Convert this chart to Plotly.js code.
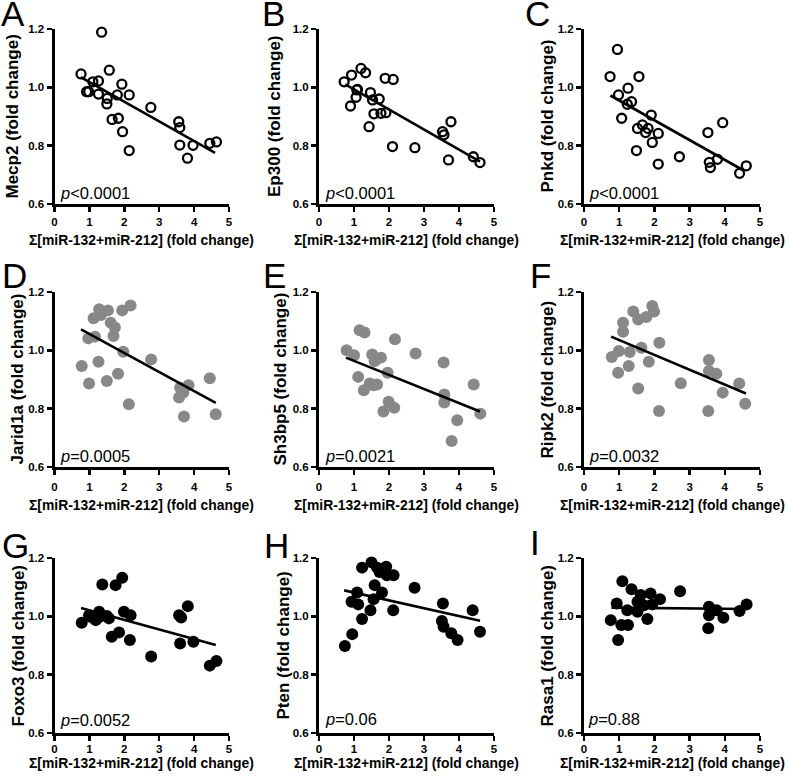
<!DOCTYPE html>
<html><head><meta charset="utf-8">
<script src="https://cdn.plot.ly/plotly-3.0.1.min.js"></script>
<style>html,body{margin:0;padding:0;background:#fff}#chart{width:789px;height:778px}</style>
</head><body><div id="chart"></div>
<script>
// ---- data ----
const xTickVals = [0, 1, 2, 3, 4, 5];
const xTickText = ['0', '1', '2', '3', '4', '5'];
const yTickVals = [0.6, 0.8, 1.0, 1.2];
const yTickText = ['0.6', '0.8', '1.0', '1.2'];
const panelLetters = ['A', 'B', 'C', 'D', 'E', 'F', 'G', 'H', 'I'];
const geneNames = ['Mecp2', 'Ep300', 'Pnkd', 'Jarid1a', 'Sh3bp5', 'Ripk2', 'Foxo3', 'Pten', 'Rasa1'];
const pValueLabels = ['<i>p</i>&lt;0.0001', '<i>p</i>&lt;0.0001', '<i>p</i>&lt;0.0001',
  '<i>p</i>=0.0005', '<i>p</i>=0.0021', '<i>p</i>=0.0032',
  '<i>p</i>=0.0052', '<i>p</i>=0.06', '<i>p</i>=0.88'];
const xTitleText = 'Σ[miR-132+miR-212] (fold change)';

const mecp2X = [0.76, 1.35, 1.10, 1.26, 0.92, 0.98, 1.26, 1.57, 1.51, 1.50, 1.65, 1.80, 1.93, 1.83, 1.95, 2.14, 2.14, 2.76, 3.56, 3.59, 3.59, 3.81, 3.97, 4.45, 4.64];
const mecp2Y = [1.046, 1.189, 1.019, 1.022, 0.985, 0.985, 0.977, 1.059, 0.962, 0.943, 0.890, 0.974, 1.011, 0.894, 0.848, 0.974, 0.783, 0.931, 0.882, 0.862, 0.802, 0.757, 0.801, 0.808, 0.813];
const mecp2FitX = [0.75, 4.6];
const mecp2FitY = [1.035, 0.775];

const ep300X = [0.72, 0.93, 0.90, 1.08, 1.06, 1.10, 1.20, 1.33, 1.47, 1.53, 1.43, 1.57, 1.72, 1.77, 1.91, 1.89, 2.12, 2.10, 2.74, 3.53, 3.57, 3.77, 3.70, 4.41, 4.60];
const ep300Y = [1.019, 1.042, 0.936, 0.991, 0.966, 0.993, 1.065, 1.050, 0.982, 0.957, 0.865, 0.909, 0.960, 0.911, 0.913, 1.031, 1.027, 0.797, 0.793, 0.848, 0.837, 0.882, 0.751, 0.762, 0.742];
const ep300FitX = [0.75, 4.6];
const ep300FitY = [1.01, 0.745];

const pnkdX = [0.74, 0.95, 0.98, 1.07, 1.25, 1.23, 1.35, 1.56, 1.52, 1.49, 1.66, 1.75, 1.82, 1.91, 1.94, 2.11, 2.11, 2.71, 3.52, 3.56, 3.59, 3.79, 3.94, 4.42, 4.61];
const pnkdY = [1.037, 1.130, 0.974, 0.894, 0.997, 0.942, 0.951, 1.037, 0.859, 0.783, 0.871, 0.845, 0.859, 0.905, 0.811, 0.842, 0.737, 0.762, 0.845, 0.743, 0.725, 0.753, 0.879, 0.705, 0.731];
const pnkdFitX = [0.75, 4.55];
const pnkdFitY = [0.972, 0.714];

const jarid1aX = [0.78, 0.97, 0.99, 1.12, 1.16, 1.26, 1.28, 1.33, 1.50, 1.53, 1.61, 1.73, 1.69, 1.82, 1.94, 1.97, 2.18, 2.13, 2.77, 3.60, 3.57, 3.84, 3.69, 3.71, 4.45, 4.62];
const jarid1aY = [0.946, 1.041, 0.886, 1.110, 1.047, 0.961, 1.141, 1.121, 0.895, 1.137, 1.095, 1.078, 1.049, 0.920, 1.137, 0.995, 1.154, 0.815, 0.969, 0.872, 0.838, 0.880, 0.855, 0.773, 0.904, 0.781];
const jarid1aFitX = [0.76, 4.62];
const jarid1aFitY = [1.072, 0.82];

const sh3bp5X = [0.79, 1.00, 1.16, 1.30, 1.12, 1.28, 1.45, 1.66, 1.52, 1.59, 1.77, 1.96, 1.99, 1.84, 2.15, 2.17, 2.76, 3.56, 3.58, 3.58, 3.95, 3.79, 4.42, 4.61, 1.55];
const sh3bp5Y = [1.000, 0.983, 1.069, 1.061, 0.909, 0.863, 0.886, 0.883, 0.986, 0.963, 0.975, 0.923, 0.824, 0.790, 0.803, 1.038, 0.989, 0.958, 0.849, 0.821, 0.760, 0.689, 0.883, 0.783, 0.880];
const sh3bp5FitX = [0.77, 4.6];
const sh3bp5FitY = [0.975, 0.79];

const ripk2X = [0.79, 0.97, 0.99, 1.11, 1.11, 1.27, 1.30, 1.40, 1.54, 1.54, 1.63, 1.77, 1.84, 1.94, 1.99, 2.14, 2.13, 2.75, 3.55, 3.55, 3.76, 3.94, 3.53, 4.41, 4.58];
const ripk2Y = [0.977, 0.923, 0.998, 1.095, 1.064, 0.946, 0.994, 1.133, 1.106, 0.869, 1.009, 1.114, 0.961, 1.152, 1.133, 1.026, 0.792, 0.887, 0.967, 0.929, 0.920, 0.855, 0.792, 0.886, 0.817];
const ripk2FitX = [0.77, 4.6];
const ripk2FitY = [1.047, 0.852];

const foxo3X = [0.78, 0.99, 1.02, 1.18, 1.31, 1.28, 1.50, 1.56, 1.37, 1.75, 1.94, 1.99, 2.18, 1.64, 1.85, 2.16, 2.77, 3.57, 3.63, 3.82, 3.60, 3.98, 4.45, 4.64];
const foxo3Y = [0.978, 1.004, 0.999, 0.987, 0.999, 1.016, 1.001, 0.993, 1.109, 1.107, 1.132, 1.016, 1.004, 0.930, 0.945, 0.919, 0.862, 1.004, 0.996, 1.035, 0.907, 0.913, 0.831, 0.847];
const foxo3FitX = [0.76, 4.62];
const foxo3FitY = [1.029, 0.902];

const ptenX = [0.74, 0.95, 0.93, 1.09, 1.12, 1.23, 1.23, 1.50, 1.59, 1.47, 1.56, 1.80, 1.66, 1.73, 1.92, 1.94, 2.13, 2.12, 2.73, 3.54, 3.51, 3.56, 3.78, 3.96, 4.39, 4.60];
const ptenY = [0.898, 0.939, 1.050, 1.082, 1.041, 0.991, 1.167, 1.185, 1.107, 1.021, 1.059, 1.082, 1.167, 1.152, 1.170, 1.141, 1.141, 1.021, 1.098, 1.044, 0.984, 0.964, 0.942, 0.919, 1.021, 0.947];
const ptenFitX = [0.72, 4.6];
const ptenFitY = [1.089, 0.985];

const rasa1X = [0.76, 0.93, 0.97, 1.09, 1.06, 1.25, 1.23, 1.35, 1.52, 1.52, 1.61, 1.70, 1.80, 1.89, 1.94, 2.16, 2.73, 3.55, 3.55, 3.53, 3.77, 3.96, 4.42, 4.62];
const rasa1Y = [0.987, 1.044, 0.919, 1.120, 0.970, 0.970, 1.021, 1.093, 1.016, 1.050, 1.073, 1.038, 0.991, 1.078, 1.041, 1.059, 1.086, 1.033, 1.004, 0.959, 1.021, 0.995, 1.018, 1.041];
const rasa1FitX = [0.78, 4.6];
const rasa1FitY = [1.03, 1.025];

// ---- assembly ----
const panelData = [
  [mecp2X, mecp2Y, mecp2FitX, mecp2FitY],
  [ep300X, ep300Y, ep300FitX, ep300FitY],
  [pnkdX, pnkdY, pnkdFitX, pnkdFitY],
  [jarid1aX, jarid1aY, jarid1aFitX, jarid1aFitY],
  [sh3bp5X, sh3bp5Y, sh3bp5FitX, sh3bp5FitY],
  [ripk2X, ripk2Y, ripk2FitX, ripk2FitY],
  [foxo3X, foxo3Y, foxo3FitX, foxo3FitY],
  [ptenX, ptenY, ptenFitX, ptenFitY],
  [rasa1X, rasa1Y, rasa1FitX, rasa1FitY]
];

const W = 789, H = 778;
const colL = [54.5, 319, 584], colR = [229, 494, 760];
const rowT = [29, 292, 558], rowB = [204, 467, 733];
const rowTickStandoff = [0, 2, -2];
const yTitleX = [[12, 274.5, 547], [17, 280, 547], [18, 283, 547]];
const xTitleY = [240, 505, 763];
const letterPos = [[0, 13.5], [261, 13.5], [524, 14], [1, 276], [262, 276], [529, 276], [1, 545], [263, 545], [529, 542]];
const pPos = [[58, 193], [323, 193], [587, 193], [58, 456], [323, 456], [587, 456], [58, 720], [323, 719], [586, 719]];

const FONT = 'Liberation Sans, Arial, sans-serif';
const fx = v => v / W, fy = v => 1 - v / H;

const traces = [];
const layout = {
  width: W, height: H, margin: {l: 0, r: 0, t: 0, b: 0},
  paper_bgcolor: '#fff', plot_bgcolor: 'rgba(0,0,0,0)',
  showlegend: false, annotations: [], font: {family: FONT, color: '#000'}
};

panelData.forEach((d, i) => {
  const r = Math.floor(i / 3), c = i % 3;
  const sfx = i === 0 ? '' : String(i + 1);
  const xa = 'x' + sfx, ya = 'y' + sfx;
  let marker;
  if (r === 0) marker = {symbol: 'circle-open', size: 9, color: '#000', line: {width: 2.3, color: '#000'}};
  else if (r === 1) marker = {symbol: 'circle', size: 12, color: '#888888', line: {width: 0}};
  else marker = {symbol: 'circle', size: 12, color: '#000', line: {width: 0}};
  traces.push({type: 'scatter', mode: 'markers', x: d[0], y: d[1], xaxis: xa, yaxis: ya, marker: marker, hoverinfo: 'skip', cliponaxis: false});
  traces.push({type: 'scatter', mode: 'lines', x: d[2], y: d[3], xaxis: xa, yaxis: ya, line: {color: '#000', width: 2.6}, hoverinfo: 'skip'});

  const tickFont = {family: FONT, size: 11.5, color: '#000', weight: 'bold'};
  layout['xaxis' + sfx] = {
    domain: [fx(colL[c]), fx(colR[c])], anchor: ya, range: [0, 5],
    tickmode: 'array', tickvals: xTickVals, ticktext: xTickText, ticklabelstandoff: rowTickStandoff[r],
    showgrid: false, zeroline: false, showline: true, linecolor: '#000', linewidth: 3,
    ticks: 'outside', ticklen: 5, tickwidth: 2.5, tickcolor: '#000', tickfont: tickFont, fixedrange: true
  };
  layout['yaxis' + sfx] = {
    domain: [fy(rowB[r]), fy(rowT[r])], anchor: xa, range: [0.6, 1.2],
    tickmode: 'array', tickvals: yTickVals, ticktext: yTickText,
    showgrid: false, zeroline: false, showline: true, linecolor: '#000', linewidth: 3,
    ticks: 'outside', ticklen: 5, tickwidth: 2.5, tickcolor: '#000', tickfont: tickFont, fixedrange: true
  };

  // y-axis title
  layout.annotations.push({xref: 'paper', yref: 'paper', x: fx(yTitleX[r][c]), y: fy((rowT[r] + rowB[r]) / 2),
    text: geneNames[i] + ' (fold change)', textangle: -90, showarrow: false, xanchor: 'center', yanchor: 'middle',
    font: {family: FONT, size: 17, color: '#000', weight: 'bold'}});
  // x-axis title
  layout.annotations.push({xref: 'paper', yref: 'paper', x: fx((colL[c] + colR[c]) / 2), y: fy(xTitleY[r]),
    text: xTitleText, showarrow: false, xanchor: 'center', yanchor: 'middle', borderpad: 0,
    font: {family: FONT, size: 13.9, color: '#000', weight: 'bold'}});
  // panel letter
  layout.annotations.push({xref: 'paper', yref: 'paper', x: fx(letterPos[i][0]), y: fy(letterPos[i][1]),
    text: panelLetters[i], showarrow: false, xanchor: 'left', yanchor: 'middle', borderpad: 0,
    font: {family: FONT, size: 35, color: '#000'}});
  // p value
  layout.annotations.push({xref: 'paper', yref: 'paper', x: fx(pPos[i][0]), y: fy(pPos[i][1]),
    text: pValueLabels[i], showarrow: false, xanchor: 'left', yanchor: 'middle',
    font: {family: FONT, size: 16.5, color: '#000'}});
});

Plotly.newPlot('chart', traces, layout, {staticPlot: true, displayModeBar: false});
</script>
</body></html>
